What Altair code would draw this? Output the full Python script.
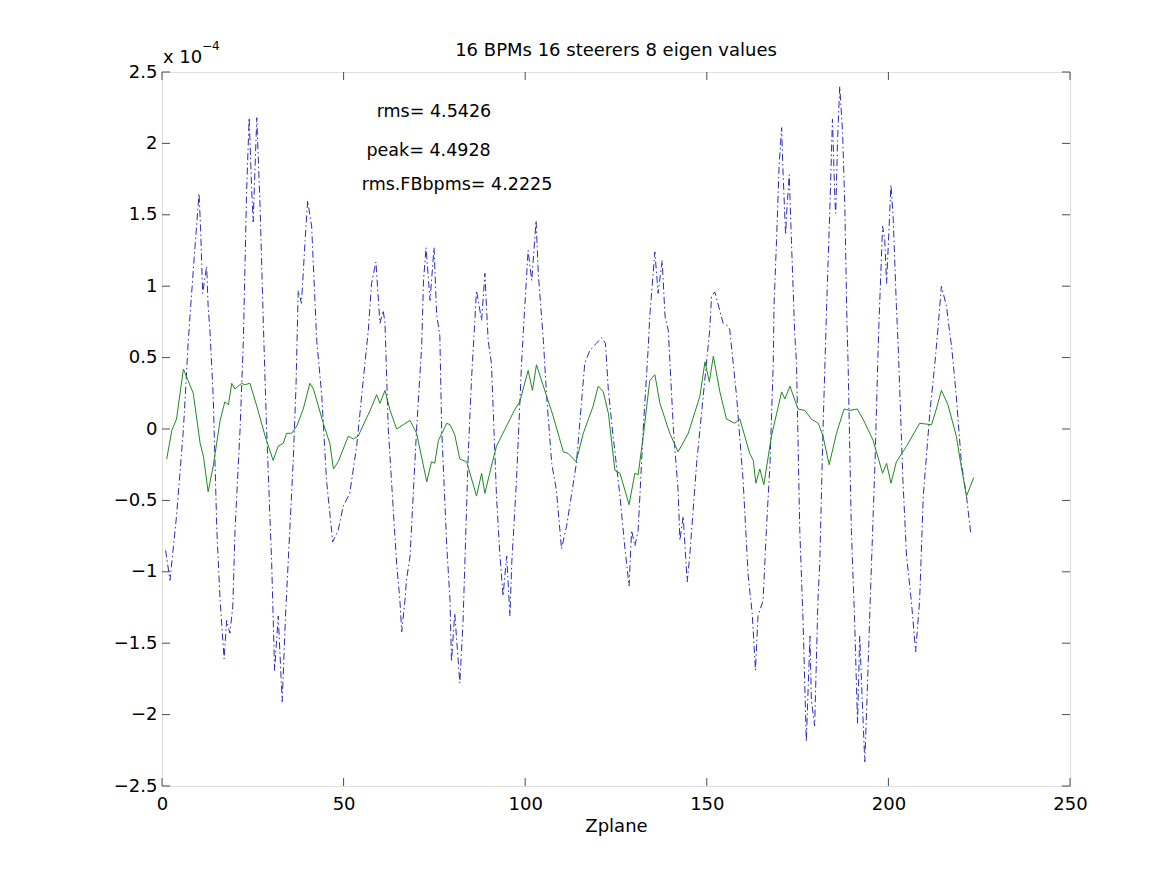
import altair as alt
import pandas as pd

# ---------------- data (values in units of 1e-4) ----------------
TITLE = ["16 BPMs 16 steerers 8 eigen values"]
X_LABEL = "Zplane"
EXP_BASE = ["x 10"]
EXP_POWER = ["\u22124"]
X_TICKS = [0, 50, 100, 150, 200, 250]
Y_TICKS = [-2.5, -2, -1.5, -1, -0.5, 0, 0.5, 1, 1.5, 2, 2.5]

blue_x = [1.0, 2.2, 4.0, 5.9, 7.2, 7.7, 9.1, 10.2, 10.6, 11.2, 12.3, 12.7, 13.2, 14.1, 15.1,
          16.0, 17.1, 17.8, 18.7, 19.5, 20.1, 21.5, 22.4, 23.3, 24.0, 24.7, 25.1, 26.1, 27.0,
          27.9, 28.8, 30.2, 31.0, 32.0, 33.1, 34.0, 36.1, 36.9, 37.5, 38.4, 39.4, 40.1, 41.2,
          42.6, 44.0, 45.3, 47.0, 48.5, 49.9, 51.7, 53.6, 55.4, 56.8, 57.7, 58.9, 60.0, 60.9,
          61.4, 62.3, 64.6, 65.5, 66.0, 66.9, 67.3, 68.3, 70.1, 71.5, 72.0, 72.7, 73.8, 74.9,
          75.6, 76.5, 77.0, 78.4, 79.3, 79.7, 80.6, 82.0, 82.9, 84.3, 85.2, 86.6, 88.0, 88.9,
          89.8, 90.7, 92.1, 93.0, 93.9, 94.9, 95.8, 96.3, 97.6, 99.0, 99.5, 100.8, 101.8,
          103.0, 103.6, 105.0, 105.9, 107.3, 108.6, 110.0, 111.4, 114.1, 116.4, 117.8, 119.6,
          121.0, 122.1, 122.9, 124.2, 126.1, 127.4, 128.6, 129.3, 130.2, 131.1, 132.5, 133.9,
          134.3, 135.7, 136.6, 137.7, 138.5, 139.4, 140.8, 142.1, 142.6, 143.5, 144.6, 145.3,
          147.2, 149.9, 150.8, 151.3, 152.2, 154.5, 155.4, 156.3, 158.2, 160.0, 161.4, 162.5,
          163.4, 164.1, 165.5, 166.4, 167.4, 168.3, 168.5, 169.2, 169.9, 170.6, 171.0, 171.7,
          172.1, 172.7, 173.3, 174.2, 174.7, 175.6, 176.5, 177.4, 178.4, 178.8, 179.7, 180.6,
          181.1, 182.0, 182.8, 183.0, 183.9, 184.6, 185.3, 185.5, 186.0, 186.6, 187.4, 188.0,
          188.6, 188.9, 189.8, 190.7, 191.5, 192.1, 192.8, 193.5, 194.1, 195.0, 196.3, 197.2,
          197.4, 198.4, 199.0, 199.5, 200.2, 200.7, 201.3, 202.2, 202.7, 204.0, 205.0, 206.3,
          207.5, 208.6, 209.6, 211.4, 212.8, 213.7, 214.6, 216.0, 216.9, 217.4, 218.7, 220.1,
          221.5, 222.7]
blue_y = [-0.85, -1.06, -0.61, 0.0, 0.60, 0.79, 1.28, 1.65, 1.42, 0.95, 1.14, 0.86, 0.69, 0.23, -0.71,
          -1.20, -1.61, -1.34, -1.43, -1.24, -0.71, 0.0, 0.62, 1.67, 2.18, 1.67, 1.45, 2.18, 1.56,
          0.74, 0.0, -0.94, -1.69, -1.31, -1.91, -1.31, -0.24, 0.30, 0.97, 0.88, 1.32, 1.60, 1.42,
          0.62, 0.23, -0.36, -0.79, -0.71, -0.54, -0.45, -0.12, 0.34, 0.69, 1.02, 1.17, 0.74, 0.83,
          0.74, 0.0, -0.94, -1.20, -1.42, -1.20, -1.06, -0.89, 0.0, 0.58, 1.04, 1.27, 0.90, 1.27,
          0.81, 0.65, 0.0, -0.82, -1.20, -1.63, -1.29, -1.78, -1.34, -0.19, 0.34, 0.97, 0.76, 1.09,
          0.62, 0.46, -0.47, -0.87, -1.17, -0.89, -1.31, -0.94, -0.36, 0.46, 0.69, 1.25, 1.04,
          1.46, 1.09, 0.62, 0.23, -0.24, -0.43, -0.84, -0.68, -0.24, 0.46, 0.55, 0.60,
          0.64, 0.60, 0.27, -0.05, -0.47, -0.82, -1.10, -0.71, -0.82, -0.71, 0.0, 0.58,
          0.79, 1.24, 0.95, 1.18, 0.79, 0.69, 0.0, -0.43, -0.78, -0.61, -1.07, -0.89,
          -0.24, 0.46, 0.69, 0.93, 0.96, 0.74, 0.73, 0.70, 0.23, -0.36, -1.03, -1.29,
          -1.69, -1.31, -1.20, -0.71, -0.24, 0.46, 0.86, 1.32, 1.84, 2.11, 1.79, 1.36,
          1.56, 1.78, 1.32, 0.67, 0.46, -0.71, -1.34, -2.19, -1.45, -1.90, -2.08, -1.20,
          -0.94, 0.0, 0.69, 0.86, 1.56, 2.17, 1.58, 1.51, 2.02, 2.40, 2.07, 1.56,
          0.74, 0.46, -0.71, -1.34, -2.06, -1.45, -1.90, -2.33, -1.90, -1.20, -0.24, 0.58,
          0.74, 1.42, 1.32, 1.02, 1.42, 1.71, 1.49, 0.86, 0.58, -0.36, -0.89, -1.20,
          -1.56, -1.20, -0.47, 0.11, 0.46, 0.72, 1.00, 0.86, 0.67, 0.58, 0.23, -0.24,
          -0.47, -0.74]

green_x = [1.3, 2.7, 4.0, 5.9, 8.6, 10.5, 11.4, 12.7, 14.1, 16.0, 17.3, 18.3, 19.2, 20.1, 21.9,
           22.8, 24.2, 26.1, 28.4, 30.6, 32.0, 33.4, 34.3, 35.7, 37.1, 38.9, 40.7, 41.7, 44.4,
           46.2, 47.2, 48.5, 51.3, 52.7, 54.0, 57.3, 59.1, 60.0, 61.4, 62.8, 64.6, 66.4, 68.3,
           70.1, 72.9, 74.2, 75.1, 76.1, 78.4, 79.3, 80.6, 82.0, 83.9, 86.6, 88.0, 88.9, 90.7,
           92.1, 97.2, 98.5, 100.8, 102.0, 103.1, 105.9, 107.7, 110.5, 111.8, 114.0, 116.0,
           118.7, 120.1, 121.5, 122.9, 124.7, 126.1, 128.6, 130.2, 131.1, 132.5, 134.3, 135.7,
           137.1, 139.8, 142.1, 144.9, 148.1, 149.5, 150.7, 151.8, 153.6, 155.4, 157.7, 159.1,
           161.8, 162.8, 163.5, 164.6, 165.7, 167.8, 170.6, 171.5, 172.9, 175.1, 177.0, 178.8,
           180.7, 182.0, 183.7, 185.7, 187.8, 189.4, 191.4, 193.0, 195.8, 198.4, 199.5, 200.7,
           202.2, 205.0, 208.6, 211.9, 213.2, 214.6, 216.4, 218.7, 219.9, 221.5, 223.5]
green_y = [-0.21, -0.01, 0.07, 0.42, 0.25, -0.10, -0.19, -0.44, -0.26, 0.06, 0.19, 0.17, 0.32, 0.28, 0.32,
           0.31, 0.32, 0.16, -0.05, -0.22, -0.12, -0.10, -0.03, -0.03, 0.02, 0.14, 0.32, 0.28, 0.04,
           -0.10, -0.28, -0.23, -0.05, -0.07, -0.05, 0.13, 0.24, 0.18, 0.27, 0.13, 0.00, 0.03, 0.06,
           -0.03, -0.37, -0.23, -0.24, -0.08, 0.04, 0.03, -0.04, -0.21, -0.23, -0.47, -0.31, -0.45, -0.26,
           -0.12, 0.14, 0.19, 0.41, 0.27, 0.45, 0.23, 0.09, -0.16, -0.17, -0.23, -0.03,
           0.16, 0.30, 0.26, 0.11, -0.29, -0.31, -0.53, -0.31, -0.32, -0.05, 0.34, 0.38,
           0.18, -0.03, -0.16, -0.03, 0.23, 0.47, 0.33, 0.51, 0.26, 0.07, 0.04, 0.07,
           -0.17, -0.22, -0.38, -0.28, -0.39, -0.05, 0.26, 0.21, 0.30, 0.14, 0.13, 0.07,
           0.04, -0.05, -0.25, -0.03, 0.14, 0.13, 0.14, 0.07, -0.08, -0.31, -0.24, -0.38,
           -0.23, -0.12, 0.04, 0.03, 0.14, 0.27, 0.17, -0.05, -0.24, -0.47, -0.34]

note_text = ["rms= 4.5426", "peak= 4.4928", "rms.FBbpms= 4.2225"]
note_x = [59.1, 56.3, 55.0]
note_y = [2.22, 1.95, 1.71]

# ---------------- chart ----------------
W, H = 908, 714
FRAME = "#4d4d4d"
FONT = "DejaVu Sans"

df_blue = pd.DataFrame({"x": blue_x, "y": blue_y, "i": range(len(blue_x))})
df_green = pd.DataFrame({"x": green_x, "y": green_y, "i": range(len(green_x))})
df_notes = pd.DataFrame({"x": note_x, "y": note_y, "t": note_text})
df_xt = pd.DataFrame({"x": X_TICKS})
df_yt = pd.DataFrame({"y": Y_TICKS})

xs = alt.Scale(domain=[0, 250], nice=False, zero=False)
ys = alt.Scale(domain=[-2.5, 2.5], nice=False, zero=False)

x_axis = alt.Axis(values=X_TICKS, ticks=False, tickSize=0, domain=False, grid=False,
                  labelFontSize=18, labelPadding=9, labelColor="black", labelFont=FONT,
                  labelFlush=False, labelOverlap=False, format="d",
                  title=X_LABEL, titleFontSize=18, titleFontWeight="normal",
                  titleColor="black", titleFont=FONT, titlePadding=4)
y_axis = alt.Axis(values=Y_TICKS, ticks=False, tickSize=0, domain=False, grid=False,
                  labelFontSize=18, labelPadding=5, labelColor="black", labelFont=FONT,
                  labelFlush=False, labelOverlap=False, format="~g", title=None)

X = alt.X("x:Q", scale=xs, axis=x_axis)
Y = alt.Y("y:Q", scale=ys, axis=y_axis)

blue = alt.Chart(df_blue).mark_line(color="#2a2abf", strokeWidth=1,
                                    strokeDash=[7, 3, 1.5, 3]).encode(x=X, y=Y, order="i:Q")
green = alt.Chart(df_green).mark_line(color="#1f8a1f", strokeWidth=1).encode(x=X, y=Y, order="i:Q")

notes = alt.Chart(df_notes).mark_text(align="left", baseline="middle", fontSize=17.5,
                                      font=FONT, color="black").encode(x=X, y=Y, text="t:N")

tick_bottom = alt.Chart(df_xt).mark_rule(color=FRAME, strokeWidth=1).encode(
    x=X, y=alt.value(H), y2=alt.value(H - 8))
tick_top = alt.Chart(df_xt).mark_rule(color=FRAME, strokeWidth=1).encode(
    x=X, y=alt.value(0), y2=alt.value(8))
tick_left = alt.Chart(df_yt).mark_rule(color=FRAME, strokeWidth=1).encode(
    y=Y, x=alt.value(0), x2=alt.value(8))
tick_right = alt.Chart(df_yt).mark_rule(color=FRAME, strokeWidth=1).encode(
    y=Y, x=alt.value(W - 8), x2=alt.value(W))

title = alt.Chart(pd.DataFrame({"t": TITLE})).mark_text(
    align="center", baseline="alphabetic", fontSize=18, font=FONT, color="black").encode(
    x=alt.value(W / 2), y=alt.value(-16), text="t:N")
exp_base = alt.Chart(pd.DataFrame({"t": EXP_BASE})).mark_text(
    align="left", baseline="alphabetic", fontSize=18, font=FONT, color="black").encode(
    x=alt.value(1), y=alt.value(-9), text="t:N")
exp_power = alt.Chart(pd.DataFrame({"t": EXP_POWER})).mark_text(
    align="left", baseline="alphabetic", fontSize=12, font=FONT, color="black").encode(
    x=alt.value(40), y=alt.value(-22), text="t:N")

chart = alt.layer(
    tick_bottom, tick_top, tick_left, tick_right, blue, green, notes,
    title, exp_base, exp_power
).properties(
    width=W, height=H,
    padding={"left": 154, "top": 64, "right": 60, "bottom": 70},
    autosize=alt.AutoSizeParams(type="none"),
    background="white",
).configure_view(stroke=FRAME, strokeWidth=1).configure(font=FONT)

chart.save("out.html", embed_options={"renderer": "svg", "actions": False})
